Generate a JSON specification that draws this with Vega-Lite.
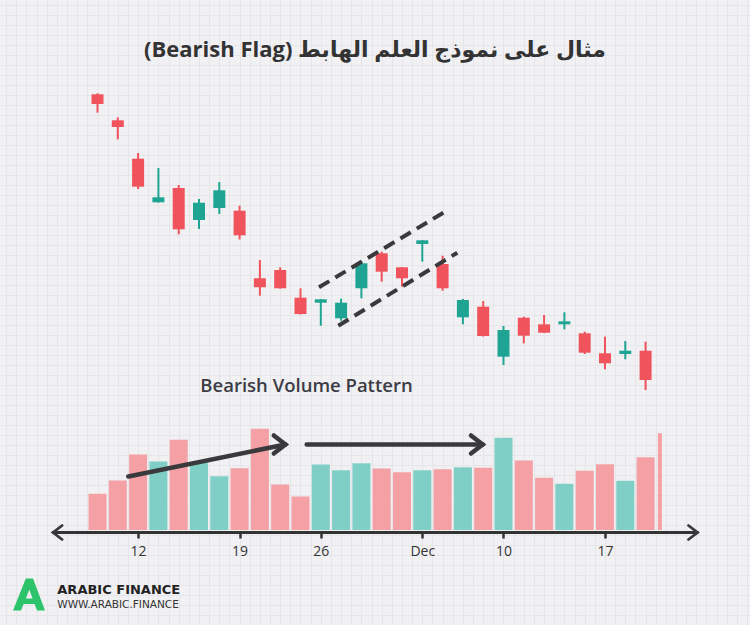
{
  "$schema": "https://vega.github.io/schema/vega-lite/v6.json",
  "width": 750,
  "height": 625,
  "autosize": "none",
  "padding": 0,
  "background": "#f1f1f4",
  "config": {"view": {"stroke": null}, "scale": {"continuousPadding": 0}},
  "title": {
    "text": "(Bearish Flag) مثال على نموذج العلم الهابط",
    "font": "Open Sans, DejaVu Sans",
    "fontSize": 22,
    "fontWeight": "bold",
    "color": "#333333",
    "anchor": "middle",
    "frame": "group",
    "offset": -62
  },
  "datasets": {
    "candles": [
      {"i": 0, "date": "2018-11-08", "open": 273.07, "high": 273.17, "low": 271.23, "close": 272.1, "volume": 54.3},
      {"i": 1, "date": "2018-11-09", "open": 270.47, "high": 270.77, "low": 268.57, "close": 269.8, "volume": 74.3},
      {"i": 2, "date": "2018-11-12", "open": 266.63, "high": 267.2, "low": 263.6, "close": 263.83, "volume": 113.3},
      {"i": 3, "date": "2018-11-13", "open": 262.27, "high": 265.7, "low": 262.25, "close": 262.77, "volume": 102.8},
      {"i": 4, "date": "2018-11-14", "open": 263.7, "high": 264.0, "low": 259.07, "close": 259.57, "volume": 135.3},
      {"i": 5, "date": "2018-11-15", "open": 260.5, "high": 262.6, "low": 259.6, "close": 262.23, "volume": 101.3},
      {"i": 6, "date": "2018-11-16", "open": 261.7, "high": 264.3, "low": 261.1, "close": 263.47, "volume": 80.7},
      {"i": 7, "date": "2018-11-19", "open": 261.43, "high": 261.93, "low": 258.55, "close": 258.97, "volume": 92.7},
      {"i": 8, "date": "2018-11-20", "open": 254.67, "high": 256.5, "low": 252.93, "close": 253.77, "volume": 151.8},
      {"i": 9, "date": "2018-11-21", "open": 255.5, "high": 255.77, "low": 253.65, "close": 253.67, "volume": 68.3},
      {"i": 10, "date": "2018-11-23", "open": 252.73, "high": 253.67, "low": 251.05, "close": 251.1, "volume": 50.3},
      {"i": 11, "date": "2018-11-26", "open": 252.23, "high": 252.6, "low": 249.93, "close": 252.57, "volume": 98.3},
      {"i": 12, "date": "2018-11-27", "open": 250.67, "high": 252.63, "low": 250.43, "close": 252.23, "volume": 89.7},
      {"i": 13, "date": "2018-11-28", "open": 253.67, "high": 256.4, "low": 252.67, "close": 256.17, "volume": 100.2},
      {"i": 14, "date": "2018-11-29", "open": 257.17, "high": 257.33, "low": 254.33, "close": 255.33, "volume": 92.3},
      {"i": 15, "date": "2018-11-30", "open": 255.77, "high": 255.8, "low": 253.83, "close": 254.67, "volume": 86.7},
      {"i": 16, "date": "2018-12-03", "open": 258.1, "high": 258.5, "low": 256.33, "close": 258.47, "volume": 89.7},
      {"i": 17, "date": "2018-12-04", "open": 256.1, "high": 256.93, "low": 253.43, "close": 253.67, "volume": 91.2},
      {"i": 18, "date": "2018-12-06", "open": 250.77, "high": 252.6, "low": 250.07, "close": 252.5, "volume": 94.2},
      {"i": 19, "date": "2018-12-07", "open": 251.83, "high": 252.4, "low": 248.85, "close": 248.9, "volume": 93.3},
      {"i": 20, "date": "2018-12-10", "open": 246.83, "high": 249.9, "low": 246.0, "close": 249.5, "volume": 138.3},
      {"i": 21, "date": "2018-12-11", "open": 250.73, "high": 250.83, "low": 248.17, "close": 248.93, "volume": 104.3},
      {"i": 22, "date": "2018-12-12", "open": 250.07, "high": 251.0, "low": 249.2, "close": 249.23, "volume": 78.3},
      {"i": 23, "date": "2018-12-13", "open": 250.07, "high": 251.27, "low": 249.57, "close": 250.37, "volume": 69.3},
      {"i": 24, "date": "2018-12-14", "open": 249.17, "high": 249.33, "low": 247.1, "close": 247.23, "volume": 88.8},
      {"i": 25, "date": "2018-12-17", "open": 247.17, "high": 248.83, "low": 245.57, "close": 246.17, "volume": 98.7},
      {"i": 26, "date": "2018-12-18", "open": 247.1, "high": 248.4, "low": 246.57, "close": 247.43, "volume": 73.8},
      {"i": 27, "date": "2018-12-19", "open": 247.43, "high": 248.33, "low": 243.5, "close": 244.5, "volume": 109.2},
      {"i": 28, "date": "2018-12-20", "volume": 145.2}
    ],
    "flag": [
      {"name": "upper", "i": 10.911, "p": 253.77},
      {"name": "upper", "i": 17.118, "p": 261.33},
      {"name": "lower", "i": 11.862, "p": 249.93},
      {"name": "lower", "i": 17.724, "p": 257.23}
    ],
    "volLines": [
      {"name": "rise", "i": 1.517, "v": 80.25},
      {"name": "rise", "i": 9.26, "v": 128.25},
      {"name": "flat", "i": 10.305, "v": 128.25},
      {"name": "flat", "i": 18.975, "v": 128.25},
      {"name": "axis", "i": -2.19, "v": -3.75},
      {"name": "axis", "i": 29.56, "v": -3.75}
    ],
    "heads": [
      {"name": "rise", "dir": "right", "i": 9.26, "v": 128.25},
      {"name": "flat", "dir": "right", "i": 18.975, "v": 128.25},
      {"name": "axis", "dir": "left", "i": -2.19, "v": -3.75},
      {"name": "axis", "dir": "right", "i": 29.56, "v": -3.75}
    ],
    "notes": [
      {"kind": "pattern", "label": "Bearish Volume Pattern", "i": 10.296, "v": 216.75},
      {"kind": "brand", "label": "ARABIC FINANCE", "i": -1.98, "v": -90},
      {"kind": "url", "label": "WWW.ARABIC.FINANCE", "i": -1.98, "v": -112.5},
      {"kind": "logo", "label": "A", "i": -3.374, "v": -96.75}
    ]
  },
  "layer": [
    {
      "layer": [
        {
          "data": {"name": "candles"},
          "transform": [{"filter": "isValid(datum.open)"}],
          "mark": {"type": "rule", "strokeWidth": 2},
          "encoding": {
            "x": {"field": "i", "type": "quantitative",
              "scale": {"domain": [-4.803, 32.143], "nice": false, "zero": false, "padding": 0},
              "axis": {"orient": "top", "grid": true, "gridColor": "#e5e5ea", "gridWidth": 1, "ticks": false, "labels": false, "domain": false, "tickCount": 90, "title": null}},
            "y": {"field": "low", "type": "quantitative",
              "scale": {"domain": [220, 282.5], "nice": false, "zero": false, "padding": 0},
              "axis": {"orient": "left", "grid": true, "gridColor": "#e5e5ea", "gridWidth": 1, "ticks": false, "labels": false, "domain": false, "tickCount": 70, "title": null}},
            "y2": {"field": "high"},
            "color": {"condition": {"test": "datum.close >= datum.open", "value": "#1fa494"}, "value": "#f0535b"}
          }
        },
        {
          "data": {"name": "candles"},
          "transform": [{"filter": "isValid(datum.open)"}],
          "mark": {"type": "bar"},
          "encoding": {
            "x": {"field": "i", "type": "quantitative", "scale": {"domain": [-4.803, 32.143], "nice": false, "zero": false, "padding": 0}},
            "y": {"field": "open", "type": "quantitative", "scale": {"domain": [220, 282.5], "nice": false, "zero": false, "padding": 0}},
            "y2": {"field": "close"},
            "size": {"value": 12},
            "color": {"condition": {"test": "datum.close >= datum.open", "value": "#1fa494"}, "value": "#f0535b"}
          }
        },
        {
          "data": {"name": "flag"},
          "mark": {"type": "line", "strokeDash": [12, 7], "strokeWidth": 4, "color": "#3a3a3d", "strokeCap": "butt"},
          "encoding": {
            "x": {"field": "i", "type": "quantitative", "scale": {"domain": [-4.803, 32.143], "nice": false, "zero": false, "padding": 0}},
            "y": {"field": "p", "type": "quantitative", "scale": {"domain": [220, 282.5], "nice": false, "zero": false, "padding": 0}},
            "detail": {"field": "name"}
          }
        }
      ]
    },
    {
      "layer": [
        {
          "data": {"name": "candles"},
          "transform": [{"filter": "datum.i < 28"}],
          "mark": {"type": "bar"},
          "encoding": {
            "x": {"field": "i", "type": "quantitative",
              "scale": {"domain": [-4.803, 32.143], "nice": false, "zero": false, "padding": 0},
              "axis": {"orient": "bottom", "offset": -93, "values": [2, 7, 11, 16, 20, 25],
                "labelExpr": "datum.value == 2 ? '12' : datum.value == 7 ? '19' : datum.value == 11 ? '26' : datum.value == 16 ? 'Dec' : datum.value == 20 ? '10' : '17'",
                "domain": false, "grid": false, "ticks": true, "tickColor": "#333333", "tickWidth": 2.5, "tickSize": 6,
                "labelFont": "Open Sans", "labelFontSize": 14, "labelColor": "#333333", "labelPadding": 6,
                "labelFlush": false, "labelOverlap": false, "title": null}},
            "y": {"field": "volume", "type": "quantitative", "scale": {"domain": [-142.5, 795], "nice": false, "zero": false, "padding": 0}, "axis": null},
            "y2": {"datum": 0},
            "size": {"value": 18},
            "color": {"condition": {"test": "datum.close >= datum.open", "value": "#80cfc6"}, "value": "#f4a0a4"}
          }
        },
        {
          "data": {"name": "candles"},
          "transform": [{"filter": "datum.i == 28"}],
          "mark": {"type": "bar", "xOffset": -6},
          "encoding": {
            "x": {"field": "i", "type": "quantitative", "scale": {"domain": [-4.803, 32.143], "nice": false, "zero": false, "padding": 0}},
            "y": {"field": "volume", "type": "quantitative", "scale": {"domain": [-142.5, 795], "nice": false, "zero": false, "padding": 0}},
            "y2": {"datum": 0},
            "size": {"value": 4},
            "color": {"value": "#f4a0a4"}
          }
        },
        {
          "data": {"name": "volLines"},
          "transform": [{"filter": "datum.name != 'axis'"}],
          "mark": {"type": "line", "strokeWidth": 4.5, "color": "#3a3a3d", "strokeCap": "round"},
          "encoding": {
            "x": {"field": "i", "type": "quantitative", "scale": {"domain": [-4.803, 32.143], "nice": false, "zero": false, "padding": 0}},
            "y": {"field": "v", "type": "quantitative", "scale": {"domain": [-142.5, 795], "nice": false, "zero": false, "padding": 0}},
            "detail": {"field": "name"}
          }
        },
        {
          "data": {"name": "volLines"},
          "transform": [{"filter": "datum.name == 'axis'"}],
          "mark": {"type": "line", "strokeWidth": 2.8, "color": "#333333", "strokeCap": "round"},
          "encoding": {
            "x": {"field": "i", "type": "quantitative", "scale": {"domain": [-4.803, 32.143], "nice": false, "zero": false, "padding": 0}},
            "y": {"field": "v", "type": "quantitative", "scale": {"domain": [-142.5, 795], "nice": false, "zero": false, "padding": 0}},
            "detail": {"field": "name"}
          }
        },
        {
          "data": {"name": "heads"},
          "mark": {"type": "point", "filled": false, "color": "#3a3a3d", "opacity": 1, "strokeCap": "round", "strokeJoin": "miter"},
          "encoding": {
            "x": {"field": "i", "type": "quantitative", "scale": {"domain": [-4.803, 32.143], "nice": false, "zero": false, "padding": 0}},
            "y": {"field": "v", "type": "quantitative", "scale": {"domain": [-142.5, 795], "nice": false, "zero": false, "padding": 0}},
            "shape": {"field": "dir", "type": "nominal", "scale": {"domain": ["left", "right"], "range": ["M1.3,-1L0,0L1.3,1", "M-1.3,-1L0,0L-1.3,1"]}, "legend": null},
            "size": {"condition": {"test": "datum.name == 'axis'", "value": 196}, "value": 324},
            "strokeWidth": {"condition": {"test": "datum.name == 'axis'", "value": 2.8}, "value": 4.5}
          }
        },
        {
          "data": {"name": "notes"},
          "transform": [{"filter": "datum.kind == 'pattern'"}],
          "mark": {"type": "text", "font": "Open Sans", "fontSize": 18.5, "fontWeight": 600, "color": "#3c3c44", "align": "center", "baseline": "middle"},
          "encoding": {
            "x": {"field": "i", "type": "quantitative", "scale": {"domain": [-4.803, 32.143], "nice": false, "zero": false, "padding": 0}},
            "y": {"field": "v", "type": "quantitative", "scale": {"domain": [-142.5, 795], "nice": false, "zero": false, "padding": 0}},
            "text": {"field": "label"}
          }
        },
        {
          "data": {"name": "notes"},
          "transform": [{"filter": "datum.kind == 'brand'"}],
          "mark": {"type": "text", "font": "DejaVu Sans", "fontSize": 13, "fontWeight": "bold", "color": "#222222", "align": "left", "baseline": "middle"},
          "encoding": {
            "x": {"field": "i", "type": "quantitative", "scale": {"domain": [-4.803, 32.143], "nice": false, "zero": false, "padding": 0}},
            "y": {"field": "v", "type": "quantitative", "scale": {"domain": [-142.5, 795], "nice": false, "zero": false, "padding": 0}},
            "text": {"field": "label"}
          }
        },
        {
          "data": {"name": "notes"},
          "transform": [{"filter": "datum.kind == 'url'"}],
          "mark": {"type": "text", "font": "DejaVu Sans", "fontSize": 10.5, "color": "#333333", "align": "left", "baseline": "middle"},
          "encoding": {
            "x": {"field": "i", "type": "quantitative", "scale": {"domain": [-4.803, 32.143], "nice": false, "zero": false, "padding": 0}},
            "y": {"field": "v", "type": "quantitative", "scale": {"domain": [-142.5, 795], "nice": false, "zero": false, "padding": 0}},
            "text": {"field": "label"}
          }
        },
        {
          "data": {"name": "notes"},
          "transform": [{"filter": "datum.kind == 'logo'"}],
          "mark": {"type": "point", "filled": true, "opacity": 1, "color": "#2cc36b",
            "shape": "M-0.2,-1L0.25,-1L1,1L0.5,1L0.02,-0.3L-0.5,1L-1,1Z M-0.3,0.25L0.4,0.25L0.52,0.6L-0.47,0.6Z"},
          "encoding": {
            "x": {"field": "i", "type": "quantitative", "scale": {"domain": [-4.803, 32.143], "nice": false, "zero": false, "padding": 0}},
            "y": {"field": "v", "type": "quantitative", "scale": {"domain": [-142.5, 795], "nice": false, "zero": false, "padding": 0}},
            "size": {"value": 1024}
          }
        }
      ]
    }
  ],
  "resolve": {"scale": {"y": "independent"}, "axis": {"x": "independent", "y": "independent"}}
}
